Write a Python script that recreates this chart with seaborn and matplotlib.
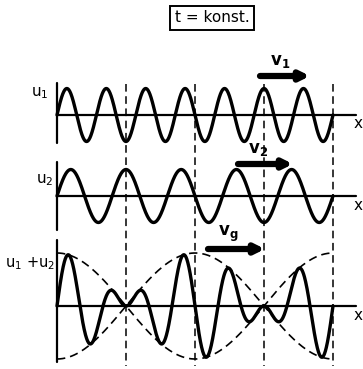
import numpy as np
import pandas as pd
import seaborn as sns
import matplotlib.pyplot as plt

sns.set_style('white')
plt.rcParams['font.family'] = ['DejaVu Sans']
plt.rcParams['mathtext.fontset'] = 'dejavusans'
plt.rcParams['text.color'] = 'black'

# wave data: number of periods over the shown x range, amplitude
periods = [7, 5]
amp = 1.0
n_dash = 4  # dashed divisions of the x range
title = 't = konst.'
curve_labels = ['u$_1$', 'u$_2$', 'u$_1$ +u$_2$']
speed_labels = [r'$\mathbf{v}_\mathbf{1}$', r'$\mathbf{v}_\mathbf{2}$', r'$\mathbf{v}_\mathbf{g}$']

s = np.linspace(0, 1, 1200)
u1 = amp * np.sin(2 * np.pi * periods[0] * s)
u2 = amp * np.sin(2 * np.pi * periods[1] * s)
env = 2 * amp * np.cos(np.pi * (periods[0] - periods[1]) * s)

# layout in pixels
x0, x1 = 57, 333
scale = 26.5
bases = [115, 196, 306]
px = x0 + (x1 - x0) * s

fig = plt.figure(figsize=(3.63, 3.69), dpi=100)
ax = fig.add_axes([0, 0, 1, 1])
ax.set_xlim(0, 363)
ax.set_ylim(369, 0)
ax.axis('off')

lw = 2.4
for y0, u in zip(bases, [u1, u2, u1 + u2]):
    df = pd.DataFrame({'x': px, 'y': y0 - scale * u})
    sns.lineplot(data=df, x='x', y='y', ax=ax, color='black', lw=lw, sort=False, estimator=None)

# envelope
for sign in [1, -1]:
    df = pd.DataFrame({'x': px, 'y': bases[2] - sign * scale * env})
    sns.lineplot(data=df, x='x', y='y', ax=ax, color='black', lw=1.2, linestyle=(0, (5, 3)),
                 sort=False, estimator=None)

# axes
for y0, top, bot in zip(bases, [83, 162, 240], [143, 230, 362]):
    ax.plot([x0, 356], [y0, y0], color='black', lw=1.6)
    ax.plot([x0, x0], [top, bot], color='black', lw=1.6)
    ax.text(358, y0 + 9, 'x', fontsize=11, ha='center', va='center')

# dashed verticals
for k in range(1, n_dash + 1):
    xd = x0 + (x1 - x0) * k / n_dash
    ax.plot([xd, xd], [84, 366], color='black', lw=1.1, linestyle=(0, (5, 3)))

# curve labels
ax.text(49, 93, curve_labels[0], fontsize=11, ha='right', va='center')
ax.text(53, 180, curve_labels[1], fontsize=11, ha='right', va='center')
ax.text(55, 264, curve_labels[2], fontsize=10.5, ha='right', va='center')

# velocity arrows
arrows = [(260, 310, 76), (238, 293, 164), (208, 265, 249)]
for (xa, xb, ya), lab in zip(arrows, speed_labels):
    ax.annotate('', xy=(xb, ya), xytext=(xa, ya),
                arrowprops=dict(arrowstyle='-|>', lw=4.5, color='black', mutation_scale=13,
                                shrinkA=0, shrinkB=0))
    ax.text(xa + 20, ya - 15, lab, fontsize=12, ha='center', va='center')

ax.text(212, 18, title, fontsize=11, ha='center', va='center',
        bbox=dict(boxstyle='square,pad=0.3', fc='white', ec='black', lw=1.4))

fig.savefig('out.png', dpi=100)
